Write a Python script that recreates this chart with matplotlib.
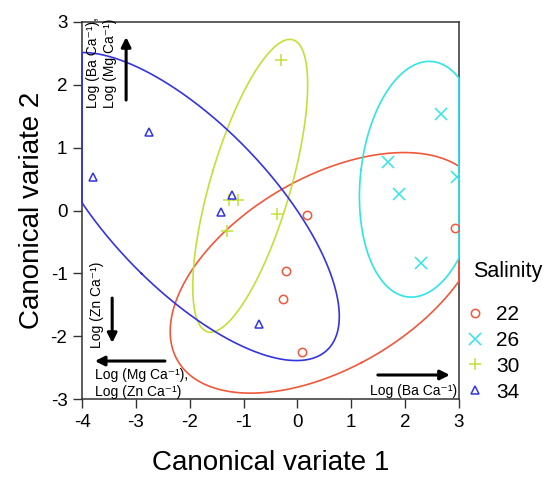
import numpy as np
import matplotlib
matplotlib.use('Agg')
import matplotlib.pyplot as plt

plt.rcParams['font.family'] = ['Liberation Sans', 'DejaVu Sans']
plt.rcParams['axes.unicode_minus'] = False

salinity = ['22', '26', '30', '34']
colors = ['#f0583a', '#30e4e8', '#c4e038', '#3434e0']
markers = ['o', 'x', '+', '^']

# canonical variate scores per salinity group
cv1_22 = [0.18, 2.93, -0.21, -0.27, 0.09]
cv2_22 = [-0.07, -0.27, -0.96, -1.41, -2.25]
cv1_26 = [1.68, 1.88, 2.97, 2.29, 2.67]
cv2_26 = [0.78, 0.27, 0.54, -0.83, 1.54]
cv1_30 = [-0.30, -1.27, -1.11, -0.38, -1.30]
cv2_30 = [2.40, 0.17, 0.17, -0.05, -0.32]
cv1_34 = [-3.80, -2.76, -1.21, -1.41, -0.72]
cv2_34 = [0.54, 1.25, 0.24, -0.03, -1.81]
cv1 = [cv1_22, cv1_26, cv1_30, cv1_34]
cv2 = [cv2_22, cv2_26, cv2_30, cv2_34]

# confidence ellipses: centre and shape matrix (xx, yy, xy)
ell_cx = [0.557, 2.283, -0.876, -2.003]
ell_cy = [-0.991, 0.498, 0.394, 0.064]
ell_sxx = [8.524, 1.278, 1.139, 7.737]
ell_syy = [3.663, 3.516, 5.426, 6.005]
ell_sxy = [2.724, 0.314, 1.714, -4.862]

XMIN, XMAX, YMIN, YMAX = -4, 3, -3, 3
SUP = '\u207b\u00b9'

fig, ax = plt.subplots(figsize=(5.45, 4.78), dpi=100)
fig.subplots_adjust(left=0.1505, right=0.842, bottom=0.165, top=0.954)

t = np.linspace(0, 2 * np.pi, 500)
for i in range(4):
    S = np.array([[ell_sxx[i], ell_sxy[i]], [ell_sxy[i], ell_syy[i]]])
    w, R = np.linalg.eigh(S)
    xy = R @ (np.sqrt(w)[:, None] * np.vstack([np.cos(t), np.sin(t)]))
    # points outside the frame run along its edge, as in the original
    ex = np.clip(xy[0] + ell_cx[i], XMIN, XMAX)
    ey = np.clip(xy[1] + ell_cy[i], YMIN, YMAX)
    ax.plot(ex, ey, color=colors[i], lw=1.2, clip_on=False, zorder=3)

for i in range(4):
    if markers[i] in ('o', '^'):
        ax.plot(cv1[i], cv2[i], ls='none', marker=markers[i], ms=6, mfc='none',
                mec=colors[i], mew=1.1, label=salinity[i], zorder=4)
    else:
        ax.plot(cv1[i], cv2[i], ls='none', marker=markers[i], ms=8,
                color=colors[i], mew=1.1, label=salinity[i], zorder=4)

ax.set_xlim(XMIN, XMAX)
ax.set_ylim(YMIN, YMAX)
ax.set_xticks(range(-4, 4))
ax.set_yticks(range(-3, 4))
ax.tick_params(direction='out', length=6.5, width=1, labelsize=13.5, color='#333333', pad=4)
for s in ax.spines.values():
    s.set_color('#333333')
    s.set_linewidth(1.1)
ax.set_xlabel('Canonical variate 1', fontsize=20, labelpad=14)
ax.set_ylabel('Canonical variate 2', fontsize=20, labelpad=4)

# loading direction annotations
arw = dict(arrowstyle='-|>', color='black', lw=2.2, mutation_scale=14, shrinkA=0, shrinkB=0)
fs = 10
ax.annotate('', xy=(0.117, 0.960), xytext=(0.117, 0.793), xycoords='axes fraction', arrowprops=arw)
ax.text(0.029, 0.772, 'Log (Ba Ca' + SUP + '),', transform=ax.transAxes, rotation=90,
        ha='center', va='bottom', fontsize=fs)
ax.text(0.074, 0.772, 'Log (Mg Ca' + SUP + ')', transform=ax.transAxes, rotation=90,
        ha='center', va='bottom', fontsize=fs)

ax.annotate('', xy=(0.080, 0.149), xytext=(0.080, 0.268), xycoords='axes fraction', arrowprops=arw)
ax.text(0.040, 0.135, 'Log (Zn Ca' + SUP + ')', transform=ax.transAxes, rotation=90,
        ha='center', va='bottom', fontsize=fs)

ax.annotate('', xy=(0.034, 0.101), xytext=(0.220, 0.101), xycoords='axes fraction', arrowprops=arw)
ax.text(0.034, 0.064, 'Log (Mg Ca' + SUP + '),', transform=ax.transAxes, ha='left', va='center', fontsize=fs)
ax.text(0.034, 0.019, 'Log (Zn Ca' + SUP + ')', transform=ax.transAxes, ha='left', va='center', fontsize=fs)

ax.annotate('', xy=(0.976, 0.064), xytext=(0.785, 0.064), xycoords='axes fraction', arrowprops=arw)
ax.text(0.995, 0.021, 'Log (Ba Ca' + SUP + ')', transform=ax.transAxes, ha='right', va='center', fontsize=fs)

# legend: title as separate text so the gap matches
fig.text(473 / 545, 1 - 272 / 478, 'Salinity', fontsize=15.5, ha='left', va='center')
fig.legend(loc='upper left', bbox_to_anchor=(0.857, 1 - 305 / 478),
           frameon=False, fontsize=15, handlelength=0.8,
           handletextpad=0.6, labelspacing=0.33, borderaxespad=0, borderpad=0)

fig.savefig('out.png', dpi=100)
